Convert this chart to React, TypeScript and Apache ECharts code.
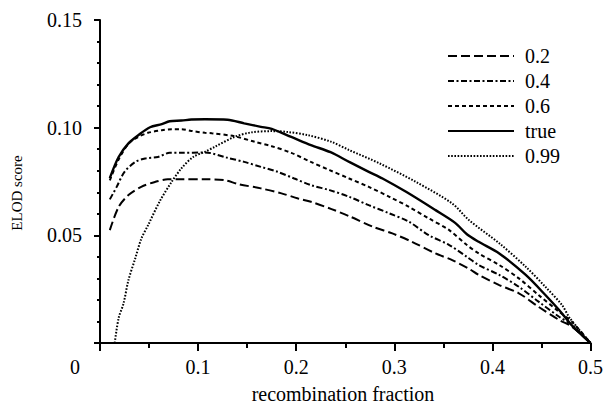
import React, { useEffect, useRef } from "react";
import * as echarts from "echarts";

const seriesNames = ["0.2", "0.4", "0.6", "true", "0.99"];

const data02: [number, number][] = [
  [0.010, 0.0524], [0.019, 0.0632], [0.029, 0.0687], [0.042, 0.0725], [0.056, 0.0748],
  [0.069, 0.0760], [0.083, 0.0760], [0.107, 0.0760], [0.127, 0.0756], [0.141, 0.0738],
  [0.164, 0.0718], [0.185, 0.0695], [0.202, 0.0671], [0.215, 0.0656], [0.236, 0.0622],
  [0.254, 0.0589], [0.278, 0.0540], [0.298, 0.0509], [0.318, 0.0470], [0.342, 0.0416],
  [0.359, 0.0385], [0.376, 0.0345], [0.386, 0.0316], [0.407, 0.0269], [0.427, 0.0231],
  [0.447, 0.0168], [0.468, 0.0107], [0.481, 0.0076], [0.500, 0.0],
];

const data04: [number, number][] = [
  [0.010, 0.0667], [0.017, 0.0725], [0.025, 0.0795], [0.036, 0.0841], [0.046, 0.0857],
  [0.059, 0.0864], [0.071, 0.0883], [0.083, 0.0883], [0.107, 0.0885], [0.130, 0.0860],
  [0.147, 0.0841], [0.164, 0.0818], [0.181, 0.0795], [0.198, 0.0764], [0.215, 0.0733],
  [0.234, 0.0710], [0.254, 0.0679], [0.274, 0.0640], [0.295, 0.0602], [0.315, 0.0563],
  [0.335, 0.0501], [0.356, 0.0455], [0.374, 0.0400], [0.386, 0.0362], [0.407, 0.0316],
  [0.427, 0.0261], [0.447, 0.0192], [0.468, 0.0122], [0.481, 0.0084], [0.500, 0.0],
];

const data06: [number, number][] = [
  [0.010, 0.0755], [0.019, 0.0852], [0.029, 0.0925], [0.039, 0.0957], [0.049, 0.0976],
  [0.063, 0.0988], [0.073, 0.0993], [0.083, 0.0993], [0.093, 0.0985], [0.107, 0.0976],
  [0.114, 0.0974], [0.137, 0.0960], [0.158, 0.0934], [0.175, 0.0914], [0.195, 0.0883],
  [0.215, 0.0841], [0.234, 0.0803], [0.254, 0.0764], [0.274, 0.0725], [0.295, 0.0679],
  [0.315, 0.0632], [0.335, 0.0579], [0.356, 0.0524], [0.374, 0.0455], [0.386, 0.0416],
  [0.407, 0.0362], [0.427, 0.0300], [0.447, 0.0223], [0.468, 0.0145], [0.481, 0.0099],
  [0.500, 0.0],
];

const dataTrue: [number, number][] = [
  [0.010, 0.0766], [0.019, 0.0864], [0.029, 0.0927], [0.039, 0.0965], [0.051, 0.1002],
  [0.063, 0.1016], [0.071, 0.1030], [0.083, 0.1033], [0.093, 0.1038], [0.107, 0.1039],
  [0.130, 0.1037], [0.147, 0.1020], [0.164, 0.1004], [0.175, 0.0994], [0.195, 0.0957],
  [0.215, 0.0919], [0.235, 0.0886], [0.254, 0.0841], [0.274, 0.0795], [0.288, 0.0764],
  [0.312, 0.0702], [0.342, 0.0617], [0.362, 0.0558], [0.374, 0.0505], [0.386, 0.0470],
  [0.407, 0.0416], [0.434, 0.0316], [0.454, 0.0223], [0.468, 0.0153], [0.481, 0.0082],
  [0.500, 0.0],
];

const data099: [number, number][] = [
  [0.015, 0.0], [0.019, 0.0116], [0.024, 0.0184], [0.029, 0.0292], [0.036, 0.0394],
  [0.042, 0.0483], [0.049, 0.0547], [0.061, 0.0659], [0.073, 0.0748], [0.083, 0.0811],
  [0.095, 0.0864], [0.107, 0.0888], [0.117, 0.0911], [0.137, 0.0957], [0.154, 0.0978],
  [0.175, 0.0984], [0.191, 0.0980], [0.212, 0.0965], [0.236, 0.0934], [0.254, 0.0896],
  [0.285, 0.0834], [0.322, 0.0748], [0.359, 0.0648], [0.376, 0.0571], [0.407, 0.0463],
  [0.434, 0.0354], [0.454, 0.0261], [0.471, 0.0176], [0.479, 0.0115], [0.500, 0.0],
];

const allData = [data02, data04, data06, dataTrue, data099];
const dashes: (number[] | "solid")[] = [[9, 4], [6, 2.5, 2, 2.5], [4, 3], "solid", [1.6, 1.6]];
const widths = [2, 2, 2, 2.4, 2];

const xTicks = [0, 0.1, 0.2, 0.3, 0.4, 0.5];
const yTicks = [0, 0.05, 0.1, 0.15];

const FONT = "Liberation Serif";

export default function App() {
  const ref = useRef<HTMLDivElement>(null);
  useEffect(() => {
    if (!ref.current) return;
    const chart = echarts.init(ref.current, undefined, { renderer: "svg" });
    chart.setOption({
      animation: false,
      backgroundColor: "#ffffff",
      grid: { left: 100, right: 14, top: 20, bottom: 63, containLabel: false },
      legend: {
        orient: "vertical",
        left: 442,
        top: 41,
        itemWidth: 66,
        itemHeight: 14,
        itemGap: 5,
        data: seriesNames,
        itemStyle: { opacity: 0, borderWidth: 0 },
        textStyle: {
          fontFamily: FONT,
          fontSize: 20,
          color: "#000",
          lineHeight: 20,
          padding: [0, 0, 0, 6],
        },
      },
      xAxis: {
        type: "value",
        min: xTicks[0],
        max: xTicks[xTicks.length - 1],
        interval: 0.1,
        splitLine: { show: false },
        axisLine: { show: true, lineStyle: { color: "#000", width: 2 } },
        axisTick: { show: true, length: 8, lineStyle: { color: "#000", width: 2 } },
        minorTick: { show: true, splitNumber: 2, length: 5, lineStyle: { color: "#000", width: 2 } },
        axisLabel: {
          margin: 14,
          fontFamily: FONT,
          fontSize: 20,
          color: "#000",
          formatter: (v: number) => (v === 0 ? "" : v.toFixed(1)),
        },
      },
      yAxis: {
        type: "value",
        min: yTicks[0],
        max: yTicks[yTicks.length - 1],
        interval: 0.05,
        splitLine: { show: false },
        axisLine: { show: true, lineStyle: { color: "#000", width: 2 } },
        axisTick: { show: true, length: 6, lineStyle: { color: "#000", width: 2 } },
        minorTick: { show: true, splitNumber: 5, length: 3, lineStyle: { color: "#000", width: 2 } },
        axisLabel: {
          margin: 18,
          fontFamily: FONT,
          fontSize: 20,
          color: "#000",
          formatter: (v: number) => (v === 0 ? "" : v.toFixed(2)),
        },
      },
      graphic: [
        {
          type: "text",
          x: 75,
          y: 367,
          style: { text: "0", fontFamily: FONT, fontSize: 20, fill: "#000", align: "center", verticalAlign: "middle" },
        },
        {
          type: "text",
          x: 343,
          y: 394,
          style: { text: "recombination fraction", fontFamily: FONT, fontSize: 20, fill: "#000", align: "center", verticalAlign: "middle" },
        },
        {
          type: "text",
          x: 17,
          y: 193,
          rotation: Math.PI / 2,
          style: { text: "ELOD score", fontFamily: FONT, fontSize: 15, fill: "#000", align: "center", verticalAlign: "middle" },
        },
      ],
      series: seriesNames.map((name, i) => ({
        name,
        type: "line",
        data: allData[i],
        showSymbol: false,
        symbol: "none",
        smooth: 0.3,
        color: "#000",
        lineStyle: { color: "#000", width: widths[i], type: dashes[i] },
      })),
    });
    return () => chart.dispose();
  }, []);
  return <div ref={ref} style={{ width: 606, height: 406, position: "absolute", left: 0, top: 0 }} />;
}
